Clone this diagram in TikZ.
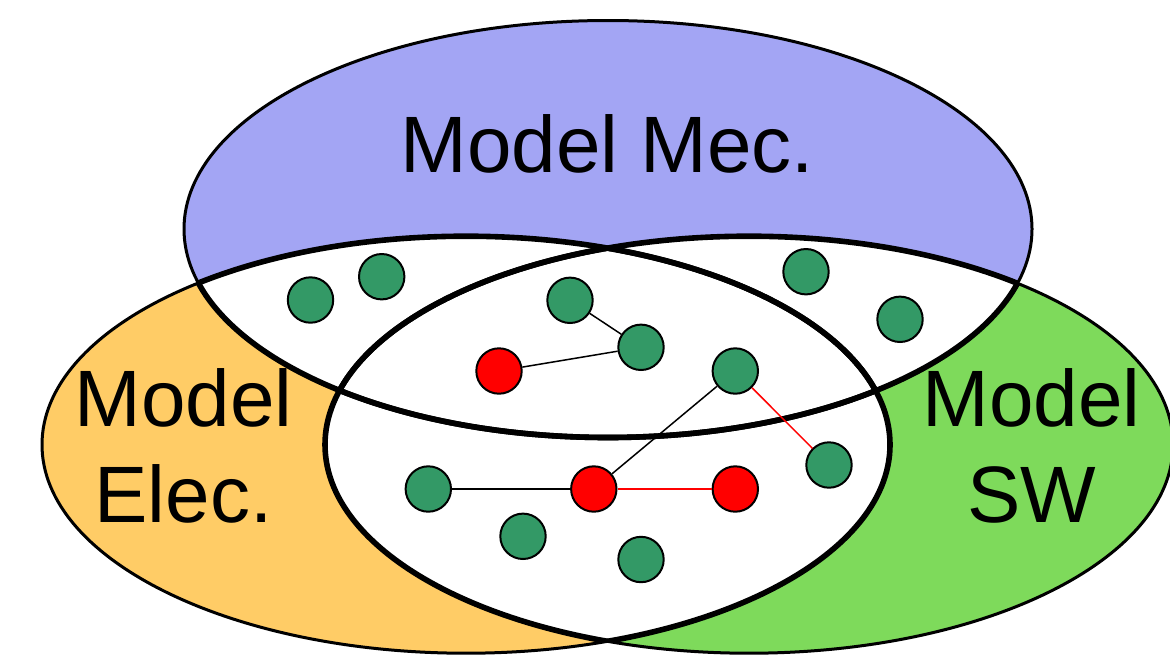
\documentclass[tikz,border=0pt]{standalone}
\usepackage{fontspec}
\setmainfont{Liberation Sans}
\definecolor{mecblue}{RGB}{163,165,244}
\definecolor{elecorange}{RGB}{255,204,102}
\definecolor{swgreen}{RGB}{126,218,91}
\definecolor{nodegreen}{RGB}{51,153,102}
\tikzset{
  ellM/.style={insert path={(608,229) ellipse [x radius=424, y radius=208.5]}},
  ellE/.style={insert path={(466,444.7) ellipse [x radius=424, y radius=208.5]}},
  ellS/.style={insert path={(749,444.7) ellipse [x radius=424, y radius=208.5]}},
  outerline/.style={line width=1.5pt,draw=black},
  innerline/.style={line width=2.8pt,draw=black},
  gnode/.style={circle,draw=black,line width=1pt,fill=nodegreen,minimum size=22.7pt,inner sep=0pt},
  rnode/.style={gnode,fill=red},
  link/.style={line width=0.75pt,draw=black},
  rlink/.style={line width=0.75pt,draw=red},
  lbl/.style={font=\fontsize{40pt}{48pt}\selectfont,inner sep=0pt,text=black}
}
\begin{document}
\begin{tikzpicture}[x=0.5pt,y=-0.5pt]
\useasboundingbox (0,0) rectangle (1170,665);
% coloured fills
\fill[mecblue,ellM];
\fill[elecorange,ellE];
\fill[swgreen,ellS];
% white intersections
\begin{scope}
  \clip[ellM];
  \fill[white,ellE];
  \fill[white,ellS];
\end{scope}
\begin{scope}
  \clip[ellE];
  \fill[white,ellS];
\end{scope}
% thin outer outlines
\draw[outerline,ellM];
\draw[outerline,ellE];
\draw[outerline,ellS];
% thick inner arcs
\begin{scope}
  \clip[ellE];
  \draw[innerline,ellM];
  \draw[innerline,ellS];
\end{scope}
\begin{scope}
  \clip[ellS];
  \draw[innerline,ellM];
  \draw[innerline,ellE];
\end{scope}
\begin{scope}
  \clip[ellM];
  \draw[innerline,ellE];
  \draw[innerline,ellS];
\end{scope}
% labels
\node[lbl,anchor=base] (mec) at (607.3,172.7) {Model Mec.};
\node[lbl,anchor=base] (el1) at (183.5,426.7) {Model};
\node[lbl,anchor=base] (el2) at (183.5,522.7) {Elec.};
\node[lbl,anchor=base] (sw1) at (1031.5,426.7) {Model};
\node[lbl,anchor=base] (sw2) at (1031.5,522.7) {SW};
% elements
\node[gnode] (a) at (310.5,300) {};
\node[gnode] (b) at (381.7,276.7) {};
\node[gnode] (c) at (570,300.3) {};
\node[gnode] (d) at (641,347.3) {};
\node[rnode] (e) at (499,371) {};
\node[gnode] (f) at (735.3,371) {};
\node[gnode] (g) at (806,271.7) {};
\node[gnode] (h) at (900,319.3) {};
\node[gnode] (i) at (829,465) {};
\node[gnode] (j) at (428.3,489) {};
\node[rnode] (k) at (593.8,489) {};
\node[rnode] (l) at (735.3,489) {};
\node[gnode] (m) at (523,536.3) {};
\node[gnode] (n) at (641,559.5) {};
% links
\draw[link] (c) -- (d);
\draw[link] (e) -- (d);
\draw[link] (f) -- (k);
\draw[rlink] (f) -- (i);
\draw[link] (j) -- (k);
\draw[rlink] (k) -- (l);
\end{tikzpicture}
\end{document}
